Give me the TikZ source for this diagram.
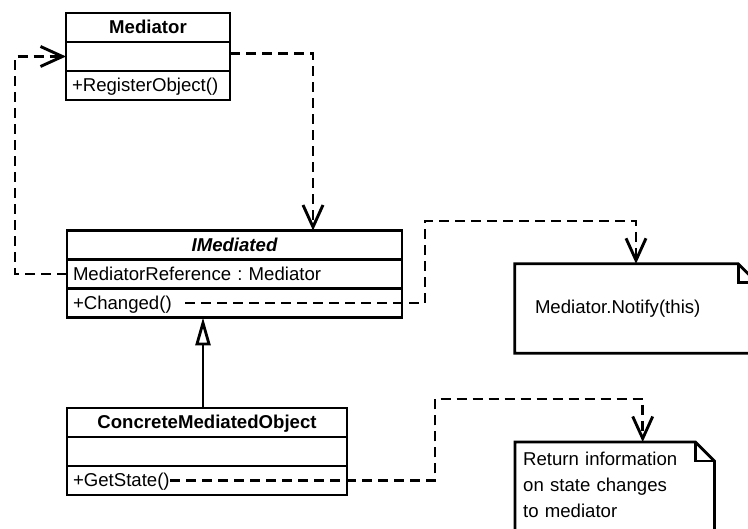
\documentclass[tikz,border=0pt]{standalone}
\usepackage{fontspec}
\setmainfont{Liberation Sans}
\usetikzlibrary{arrows.meta,positioning}

\begin{document}
\frenchspacing
\begin{tikzpicture}[
  x=1pt, y=-1pt,
  font=\fontsize{18.6}{26}\selectfont,
  umlrow/.style={draw=black, line width=2.8pt, outer sep=0pt, inner xsep=6pt,
                 inner ysep=0pt, minimum height=29pt, text width=#1, align=left,
                 text height=13pt, text depth=0pt},
  umlttl/.style={umlrow=#1, align=center, font=\fontsize{18.6}{26}\selectfont\bfseries},
  dep/.style={line width=2.9pt, dash pattern=on 10pt off 6pt,
              -{Straight Barb[length=22pt,width=20pt]}},
  gen/.style={line width=2.8pt, -{Triangle[open,fill=white,length=28pt,width=15pt]}},
  notebox/.style={inner ysep=0pt, align=left},
  noteline/.style={line width=2.8pt, line join=miter},
]
\path[use as bounding box, fill=white] (0,0) rectangle (748,529);

% ---------------- classes ----------------
\newcommand{\umlclass}[7]{%
  \node[umlttl=#4] (#1T) at (#2,#3) {#5};
  \node[umlrow=#4, below=0pt of #1T] (#1A) {#6};
  \node[umlrow=#4, below=0pt of #1A] (#1M) {#7};}

\umlclass{med}{148}{27.5}{152pt}{Mediator}{}{+RegisterObject()}
\umlclass{im}{234.5}{245}{323pt}{\itshape IMediated}{MediatorReference : Mediator}{+Changed()}
\umlclass{cm}{207}{422.5}{268pt}{ConcreteMediatedObject}{}{+GetState()}

% ---------------- notes ----------------
\node[notebox, text width=202pt, inner xsep=20pt, minimum height=89pt] (n1)
  at (636,308.5) {Mediator.Notify(this)};
\draw[noteline] (n1.north west) -- ([xshift=-19pt]n1.north east)
  -- ([yshift=-19pt]n1.north east) -- (n1.south east) -- (n1.south west) -- cycle;
\draw[noteline] ([xshift=-19pt]n1.north east) |- ([yshift=-19pt]n1.north east);

\node[notebox, text width=183pt, inner xsep=8pt, inner ysep=10pt, anchor=north west] (n2)
  at (515,442) {Return information\\on state changes\\to mediator};
\draw[noteline] ([yshift=-10pt]n2.south west) |- ([xshift=-19pt]n2.north east)
  -- ([yshift=-19pt]n2.north east) -- ([yshift=-10pt]n2.south east);
\draw[noteline] ([xshift=-19pt]n2.north east) |- ([yshift=-19pt]n2.north east);

% ---------------- connectors ----------------
\draw[dep] ([yshift=3pt]medA.east) -| ([xshift=78.5pt]imT.north);
\draw[dep] (imA.west) -- ++(-52,0) |- (medA.west);

\coordinate (k1) at (425,221);
\draw[dep] ([xshift=118pt]imM.west) -| (k1) -| (n1.north);

\coordinate (k2) at (435,399);
\draw[dep] ([xshift=103pt]cmM.west) -| (k2) -| ([xshift=28pt]n2.north);

% generalization
\draw[gen] (cmT.north) ++(-4,0) coordinate (g0) -- (g0 |- imM.south);

\end{tikzpicture}
\end{document}
